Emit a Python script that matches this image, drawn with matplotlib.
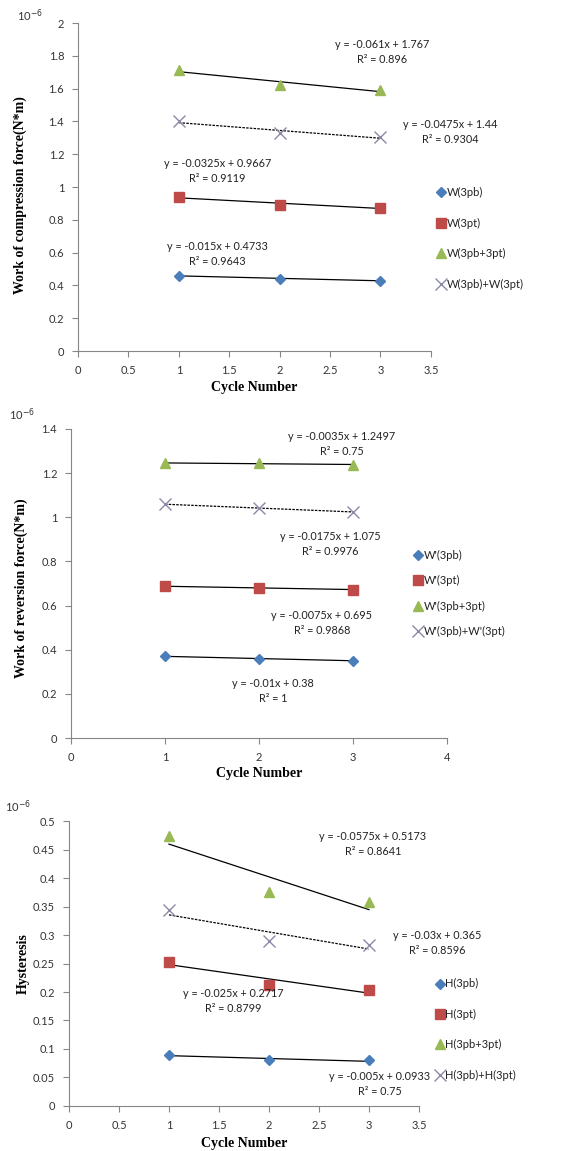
import numpy as np
import matplotlib
matplotlib.use("Agg")
import matplotlib.pyplot as plt

plt.rcParams['font.family'] = ['Lato', 'DejaVu Sans']

cycles = [1, 2, 3]

# panel 1: work of compression force
w_3pb = [0.46, 0.44, 0.43]
w_3pt = [0.94, 0.89, 0.875]
w_3pb_3pt = [1.712, 1.625, 1.590]
w_sum = [1.40, 1.33, 1.305]
w_labels = ['W(3pb)', 'W(3pt)', 'W(3pb+3pt)', 'W(3pb)+W(3pt)']
w_eqs = ['y = -0.015x + 0.4733\nR² = 0.9643',
         'y = -0.0325x + 0.9667\nR² = 0.9119',
         'y = -0.061x + 1.767\nR² = 0.896',
         'y = -0.0475x + 1.44\nR² = 0.9304']

# panel 2: work of reversion force
wr_3pb = [0.37, 0.36, 0.35]
wr_3pt = [0.6875, 0.68, 0.6725]
wr_3pb_3pt = [1.245, 1.245, 1.238]
wr_sum = [1.06, 1.04, 1.025]
wr_labels = ["W'(3pb)", "W'(3pt)", "W'(3pb+3pt)", "W'(3pb)+W'(3pt)"]
wr_eqs = ['y = -0.01x + 0.38\nR² = 1',
          'y = -0.0075x + 0.695\nR² = 0.9868',
          'y = -0.0035x + 1.2497\nR² = 0.75',
          'y = -0.0175x + 1.075\nR² = 0.9976']

# panel 3: hysteresis
h_3pb = [0.09, 0.08, 0.08]
h_3pt = [0.253, 0.213, 0.203]
h_3pb_3pt = [0.473, 0.375, 0.358]
h_sum = [0.343, 0.29, 0.283]
h_labels = ['H(3pb)', 'H(3pt)', 'H(3pb+3pt)', 'H(3pb)+H(3pt)']
h_eqs = ['y = -0.005x + 0.0933\nR² = 0.75',
         'y = -0.025x + 0.2717\nR² = 0.8799',
         'y = -0.0575x + 0.5173\nR² = 0.8641',
         'y = -0.03x + 0.365\nR² = 0.8596']

colors = ['#4a7ebb', '#be4b48', '#98b954', '#8a8aa8']
markers = ['D', 's', '^', 'x']
msizes = [5, 7, 7, 8]

panels = [
    dict(rect=[0.1366, 0.695, 0.618, 0.285], series=[w_3pb, w_3pt, w_3pb_3pt, w_sum],
         labels=w_labels, eqs=w_eqs, eq_pos=[(1.38, 0.59), (1.38, 1.095), (3.02, 1.825), (3.69, 1.335)],
         xlim=(0, 3.5), xstep=0.5, ylim=(0, 2), ystep=0.2,
         ylabel='Work of compression force(N*m)', ylab_xy=(-0.144, 0.476), xlab_y=-0.091,
         leg=(1.02, 0.343), legsp=1.75, exp_xy=(30, 16)),
    dict(rect=[0.1243, 0.3588, 0.6585, 0.2685], series=[wr_3pb, wr_3pt, wr_3pb_3pt, wr_sum],
         labels=wr_labels, eqs=wr_eqs, eq_pos=[(2.15, 0.211), (2.67, 0.523), (2.88, 1.33), (2.76, 0.877)],
         xlim=(0, 4), xstep=1, ylim=(0, 1.4), ystep=0.2,
         ylabel='Work of reversion force(N*m)', ylab_xy=(-0.114, 0.485), xlab_y=-0.095,
         leg=(0.915, 0.468), legsp=1.3, exp_xy=(22, 415)),
    dict(rect=[0.1208, 0.0391, 0.613, 0.2476], series=[h_3pb, h_3pt, h_3pb_3pt, h_sum],
         labels=h_labels, eqs=h_eqs, eq_pos=[(3.11, 0.039), (1.64, 0.185), (3.04, 0.459), (3.68, 0.286)],
         xlim=(0, 3.5), xstep=0.5, ylim=(0, 0.5), ystep=0.05,
         ylabel='Hysteresis', ylab_xy=(-0.111, 0.5), xlab_y=-0.108,
         leg=(1.05, 0.268), legsp=1.75, exp_xy=(18, 807)),
]

fig = plt.figure(figsize=(5.71, 11.51), dpi=100)
W, H = 571, 1151

for p in panels:
    ax = fig.add_axes(p['rect'])
    handles = []
    for i, y in enumerate(p['series']):
        h, = ax.plot(cycles, y, linestyle='none', marker=markers[i], ms=msizes[i],
                     color=colors[i], mec=colors[i], mew=1.0,
                     label=p['labels'][i], zorder=3)
        handles.append(h)
        # linear trendline
        k, b = np.polyfit(cycles, y, 1)
        xs = np.array([cycles[0], cycles[-1]])
        ax.plot(xs, k * xs + b, color='black', lw=0.9,
                linestyle=(0, (2, 1)) if i == 3 else '-', zorder=2)
        ex, ey = p['eq_pos'][i]
        ax.text(ex, ey, p['eqs'][i], ha='center', va='center', fontsize=7.8,
                color='#222222', linespacing=1.45, clip_on=False)

    ax.set_xlim(*p['xlim'])
    ax.set_ylim(*p['ylim'])
    xt = np.arange(p['xlim'][0], p['xlim'][1] + 1e-9, p['xstep'])
    yt = np.arange(p['ylim'][0], p['ylim'][1] + 1e-9, p['ystep'])
    ax.set_xticks(xt)
    ax.set_yticks(yt)
    ax.set_xticklabels(['{:g}'.format(round(v, 3)) for v in xt])
    ax.set_yticklabels(['{:g}'.format(round(v, 3)) for v in yt])
    for s in ['top', 'right']:
        ax.spines[s].set_visible(False)
    for s in ['left', 'bottom']:
        ax.spines[s].set_color('#868686')
        ax.spines[s].set_linewidth(0.8)
    ax.tick_params(direction='out', length=4, width=0.8, color='#868686',
                   labelsize=8, labelcolor='#333333', pad=6)

    ax.set_ylabel(p['ylabel'], family='Liberation Serif', fontweight='bold', fontsize=10)
    ax.yaxis.set_label_coords(*p['ylab_xy'])
    ax.set_xlabel('Cycle Number', family='Liberation Serif', fontweight='bold', fontsize=10)
    ax.xaxis.set_label_coords(0.5, p['xlab_y'])

    ax.legend(handles=handles, loc='center left', bbox_to_anchor=p['leg'], frameon=False,
              fontsize=8, handlelength=0.6, handletextpad=0.2, labelspacing=p['legsp'],
              borderaxespad=0, borderpad=0, labelcolor='#222222')

    ex, ey = p['exp_xy']
    fig.text(ex / W, 1 - ey / H, '10$^{-6}$', ha='center', va='center', fontsize=8, color='#333333')

fig.savefig('out.png', dpi=100)
